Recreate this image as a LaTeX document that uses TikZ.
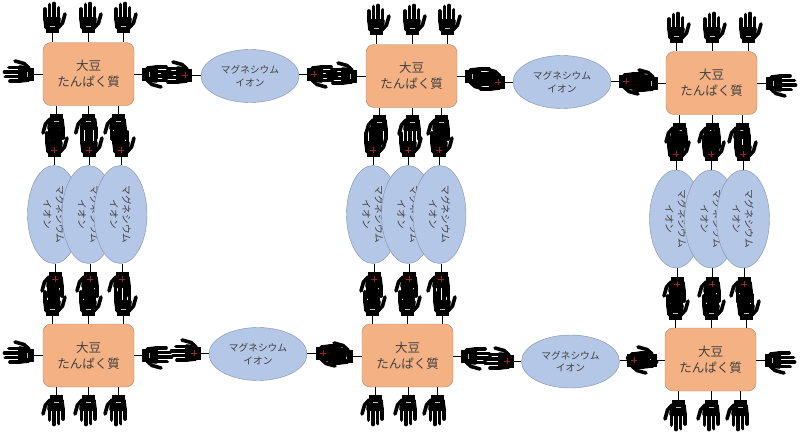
\documentclass[tikz,border=0pt]{standalone}
\usepackage{fontspec}
\setmainfont{Noto Sans CJK JP}
\usetikzlibrary{shapes.geometric}

\definecolor{soyfill}{HTML}{F4B183}
\definecolor{soyline}{HTML}{A9866C}
\definecolor{ionfill}{HTML}{B4C7E7}
\definecolor{ionline}{HTML}{7F8FA9}
\definecolor{plusred}{HTML}{9E2228}

\newcommand{\handshape}{
    \fill (-6.5,0) rectangle (6.5,-6);
    \fill[rounded corners=2] (-7.5,-3) -- (7.5,-3) -- (9,-16) -- (-9,-16) -- cycle;
    \foreach \fx/\ftip in {-7.2/-24, -2.6/-28.5, 2/-29.5, 6.6/-25}
        \draw[line width=3.7,line cap=round] (\fx,-14) -- (\fx,\ftip);
    \draw[line width=3.6,line cap=round,line join=round] (6,-5) -- (10.5,-10) -- (13,-19);
}

\tikzset{
    soy/.style={draw=soyline, fill=soyfill, rounded corners=8, minimum width=91, minimum height=63,
        inner sep=0, align=center, text=black!75, font=\fontsize{12.5}{16}\selectfont},
    ion/.style={ellipse, draw=ionline, fill=ionfill, minimum width=98, minimum height=53,
        inner sep=0, align=center, text=black!75, font=\fontsize{9.7}{12.5}\selectfont},
    stem/.style={line width=0.9},
    pics/minushand/.style={code={
        \handshape
        \draw[black!25,line width=0.7] (-2.5,-7) -- (2.5,-7);
    }},
    pics/plushand/.style={code={
        \handshape
        \draw[plusred,line width=0.8] (-2.8,-7) -- (2.8,-7) (0,-9.8) -- (0,-4.2);
    }},
}

\begin{document}
\begin{tikzpicture}[x=1pt,y=-1pt]
    \useasboundingbox (0,0) rectangle (800,434);

    % Soy protein boxes
    \foreach \sname/\sx/\sy in {soyA/88.5/74, soyB/411.5/76, soyC/711.5/83,
                                soyD/88.5/355.5, soyE/407.5/355.5, soyF/710.5/359.5}
        \node[soy] (\sname) at (\sx,\sy) {大豆\\たんぱく質};

    % Lying ions between the boxes
    \foreach \iname/\ix/\iy in {ionH1/250/76, ionH2/562/82, ionH3/258/354, ionH4/570.5/361.5}
        \node[ion] (\iname) at (\ix,\iy) {マグネシウム\\イオン};

    % Standing ions, each row overlaps the one before
    \foreach \iname/\ix/\iy in {ionA1/54/214.5, ionA2/88.5/214.5, ionA3/120.5/214.5,
                                ionB1/373/214.5, ionB2/408/214.5, ionB3/439.5/214.5,
                                ionC1/676/219, ionC2/711/219, ionC3/743/219}
        \node[ion, rotate=-90] (\iname) at (\ix,\iy) {マグネシウム\\イオン};

    % Hands on the soy boxes, up and down
    \foreach \hx/\hy/\hrot/\hto in {52/33/0/soyA.north, 88/33/0/soyA.north, 123/33/0/soyA.north,
            56/114/180/soyA.south, 88.7/114/180/soyA.south, 118/114/180/soyA.south,
            376/35/0/soyB.north, 412/35/0/soyB.north, 447/35/0/soyB.north,
            379/115/180/soyB.south, 412/115/180/soyB.south, 441/115/180/soyB.south,
            676/43/0/soyC.north, 712/43/0/soyC.north, 748/43/0/soyC.north,
            679/123/180/soyC.south, 712/123/180/soyC.south, 742/123/180/soyC.south,
            52/316/0/soyD.north, 88/316/0/soyD.north, 123/316/0/soyD.north,
            56/395/180/soyD.south, 88/395/180/soyD.south, 118/395/180/soyD.south,
            372/316/0/soyE.north, 407/316/0/soyE.north, 442/316/0/soyE.north,
            375/395/180/soyE.south, 408/395/180/soyE.south, 437/395/180/soyE.south,
            675/320/0/soyF.north, 711/320/0/soyF.north, 746/320/0/soyF.north,
            678/400/180/soyF.south, 711/400/180/soyF.south, 740/400/180/soyF.south} {
        \coordinate (wrist) at (\hx,\hy);
        \draw[stem] (wrist) -- (wrist |- \hto);
        \pic[rotate=\hrot] at (wrist) {minushand};
    }

    % Hands on the soy boxes, left and right
    \foreach \hx/\hy/\hrot/\hto in {34/74/90/soyA.west, 142/74/-90/soyA.east,
            357/76/90/soyB.west, 465/76/-90/soyB.east,
            658/83/90/soyC.west, 766/83/-90/soyC.east,
            34/355/90/soyD.west, 142/355/-90/soyD.east,
            353/356/90/soyE.west, 461/356/-90/soyE.east,
            657/360/90/soyF.west, 765/360/-90/soyF.east} {
        \coordinate (wrist) at (\hx,\hy);
        \draw[stem] (wrist) -- (wrist -| \hto);
        \pic[rotate=\hrot] at (wrist) {minushand};
    }

    % Hands on the standing ions
    \foreach \hx/\hy/\hrot/\hto in {54/157/0/ionA1.west, 89/157/0/ionA2.west, 121/157/0/ionA3.west,
            55/272/180/ionA1.east, 90/272/180/ionA2.east, 122/272/180/ionA3.east,
            373/157/0/ionB1.west, 408/157/0/ionB2.west, 439/157/0/ionB3.west,
            374/272/180/ionB1.east, 409/272/180/ionB2.east, 441/272/180/ionB3.east,
            676/161/0/ionC1.west, 711/161/0/ionC2.west, 743/161/0/ionC3.west,
            677/277/180/ionC1.east, 712/277/180/ionC2.east, 744/277/180/ionC3.east} {
        \coordinate (wrist) at (\hx,\hy);
        \draw[stem] (wrist) -- (wrist |- \hto);
        \pic[rotate=\hrot] at (wrist) {plushand};
    }

    % Hands on the lying ions
    \foreach \hx/\hy/\hrot/\hto in {192/75/90/ionH1.west, 307/74/-90/ionH1.east,
            505/82/90/ionH2.west, 619/81/-90/ionH2.east,
            201/353/90/ionH3.west, 316/353/-90/ionH3.east,
            514/361/90/ionH4.west, 627/360/-90/ionH4.east} {
        \coordinate (wrist) at (\hx,\hy);
        \draw[stem] (wrist) -- (wrist -| \hto);
        \pic[rotate=\hrot] at (wrist) {plushand};
    }
\end{tikzpicture}
\end{document}
